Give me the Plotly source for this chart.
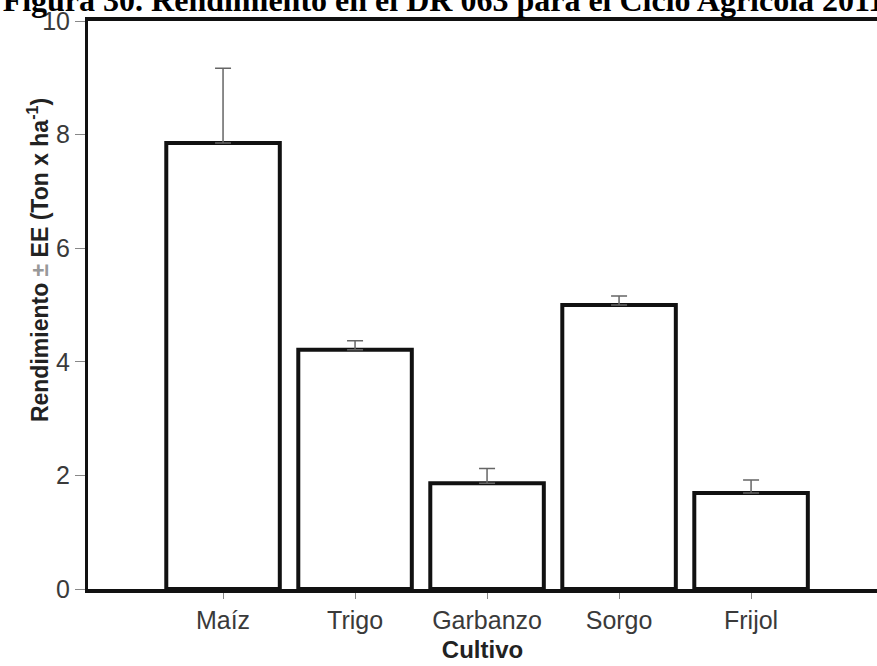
import plotly.graph_objects as go

categories = ["Maíz", "Trigo", "Garbanzo", "Sorgo", "Frijol"]
values = [7.85, 4.21, 1.86, 5.0, 1.69]
errors = [1.32, 0.16, 0.26, 0.16, 0.23]
y_ticks = [0, 2, 4, 6, 8, 10]
title_text = "Figura 30. Rendimiento en el DR 063 para el Ciclo Agrícola 2011"
y_title = "Rendimiento <span style='color:#999999'>±</span> EE (Ton x ha<sup>-1</sup>)"

x_idx = list(range(len(categories)))

fig = go.Figure()
fig.add_trace(go.Bar(
    x=x_idx, y=values,
    marker=dict(color="white", line=dict(color="#111111", width=4)),
    error_y=dict(type="data", array=errors, arrayminus=[0] * len(errors),
                 symmetric=False, color="#666666", thickness=1.5, width=8),
    width=0.86,
))

fig.update_layout(
    width=877, height=666,
    margin=dict(l=88, r=0, t=21, b=77),
    plot_bgcolor="white", paper_bgcolor="white",
    showlegend=False,
    title=dict(text="<b>" + title_text + "</b>", x=0.003, xanchor="left",
               xref="container", yref="container", y=0.984, yanchor="bottom",
               font=dict(family="Liberation Serif", size=32, color="black")),
    font=dict(family="Liberation Sans, Arial", color="#333333"),
)
fig.add_annotation(
    text="<b>" + y_title + "</b>", textangle=-90,
    xref="paper", yref="paper", x=-0.0634, y=0.579,
    xanchor="center", yanchor="middle", showarrow=False,
    font=dict(size=23, color="#222222"),
)
fig.update_xaxes(
    range=[-1.023, 4.954],
    tickmode="array", tickvals=x_idx, ticktext=categories,
    ticks="outside", ticklen=6, tickcolor="#888888", tickwidth=1,
    tickfont=dict(size=25, color="#3a3a3a"),
    showline=True, linecolor="#111111", linewidth=4, mirror=True,
    showgrid=False, zeroline=False,
    title=dict(text="<b>Cultivo</b>", font=dict(size=24, color="#222222"), standoff=9),
)
fig.update_yaxes(
    range=[0, 10],
    tickmode="array", tickvals=y_ticks, ticktext=[str(t) for t in y_ticks],
    ticks="outside", ticklen=10, tickcolor="#888888", tickwidth=1,
    tickfont=dict(size=25, color="#3a3a3a"),
    showline=True, linecolor="#111111", linewidth=3,
    showgrid=False, zeroline=False,
)

fig.write_html("out.html")
